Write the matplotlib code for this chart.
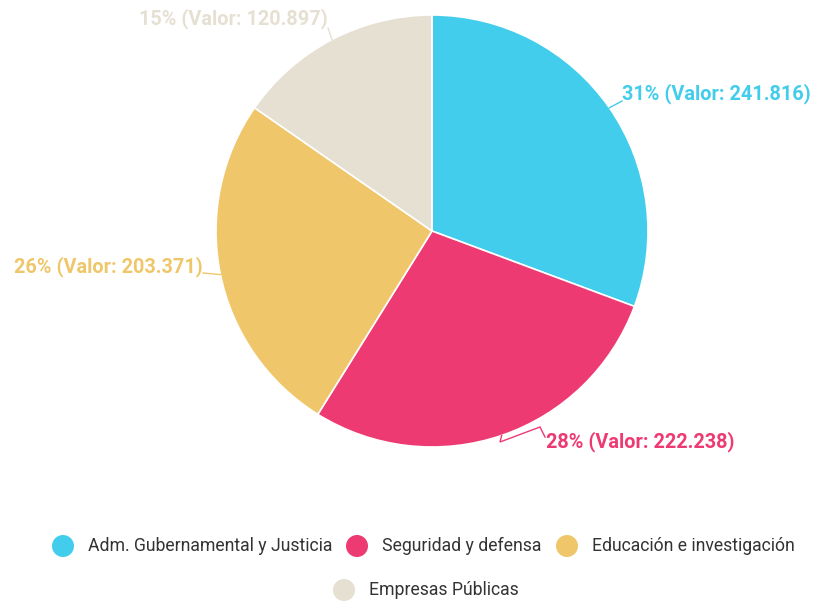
import numpy as np
import matplotlib
matplotlib.use("Agg")
import matplotlib.pyplot as plt
from matplotlib.patches import Ellipse

plt.rcParams['font.family'] = ['Roboto', 'DejaVu Sans']

categories = ["Adm. Gubernamental y Justicia", "Seguridad y defensa",
              "Educación e investigación", "Empresas Públicas"]
values = [241.816, 222.238, 203.371, 120.897]
colors = ["#41CDEB", "#EE3A73", "#EFC76A", "#E6E0D2"]

W, H = 816, 603
def Y(y):
    return H - y

fig = plt.figure(figsize=(W / 100, H / 100), dpi=100)
ax = fig.add_axes([0, 0, 1, 1])

cx, cy, r = 432, 231, 216
wedges, _ = ax.pie(values, colors=colors, startangle=90, counterclock=False,
                   center=(cx, Y(cy)), radius=r,
                   wedgeprops=dict(edgecolor="white", linewidth=1.2))
ax.set_xlim(0, W)
ax.set_ylim(0, H)
ax.set_aspect('auto')
ax.axis('off')

total = sum(values)
# label layout (pixel positions of text anchors and leader bends)
text_pos = [(622, 94, 'left'), (546, 442, 'left'), (203, 267, 'right'), (328, 19, 'right')]
bends = [[(622, 101)], [(500, 442), (540, 427), (545, 437)], [(203, 273)], [(328, 28)]]

cum = 0
for i, v in enumerate(values):
    mid = (cum + v / 2) / total * 360
    cum += v
    th = np.deg2rad(mid)
    ex, ey = cx + r * np.sin(th), cy - r * np.cos(th)
    pts = [(ex, ey)] + bends[i]
    ax.plot([p[0] for p in pts], [Y(p[1]) for p in pts], color=colors[i], lw=1.0,
            solid_joinstyle='miter')
    pct = round(v / total * 100)
    lbl = f"{pct}% (Valor: {v:.3f})"
    tx, ty, ha = text_pos[i]
    ax.text(tx, Y(ty), lbl, color=colors[i], fontsize=14.3, fontweight='bold',
            ha=ha, va='center')

# legend
leg_pos = [(63, 546), (357, 546), (567, 546), (344, 590)]
for i, c in enumerate(categories):
    x, y = leg_pos[i]
    ax.add_patch(Ellipse((x, Y(y)), 22, 22, facecolor=colors[i], edgecolor='none'))
    ax.text(x + 25, Y(y), c, color="#333333", fontsize=12.7, ha='left', va='center')

fig.savefig("out.png", dpi=100)
